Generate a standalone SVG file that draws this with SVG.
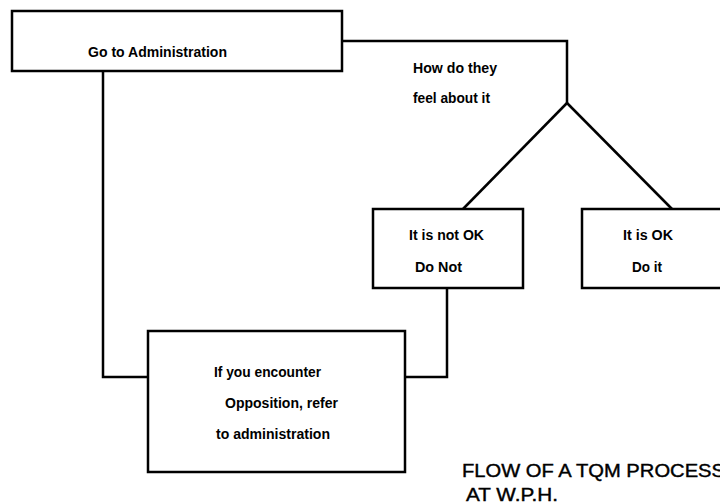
<svg xmlns="http://www.w3.org/2000/svg" width="720" height="504" viewBox="0 0 720 504">
<style>
.box{fill:#fff;stroke:#000;stroke-width:2.5}
.ln{fill:none;stroke:#000;stroke-width:2.5;stroke-linejoin:miter}
.t{font-family:"Liberation Sans",Arial,sans-serif;font-weight:bold;font-size:14px;fill:#000}
.title{font-family:"Liberation Sans",Arial,sans-serif;font-size:18px;fill:#000;stroke:#000;stroke-width:0.4}
</style>
<rect width="720" height="504" fill="#fff"/>
<g id="connectors">
<polyline class="ln" points="342,41 567,41 567,103"/>
<polyline class="ln" points="567,103 463,209"/>
<polyline class="ln" points="567,103 672,209"/>
<polyline class="ln" points="447,288 447,377 405,377"/>
<polyline class="ln" points="103,71 103,377 148,377"/>
</g>
<g id="go-admin">
<rect class="box" x="12" y="11" width="330" height="60"/>
<text class="t" x="88" y="57" textLength="139" lengthAdjust="spacingAndGlyphs">Go to Administration</text>
</g>
<g id="feel">
<text class="t" x="413" y="73" textLength="84" lengthAdjust="spacingAndGlyphs">How do they</text>
<text class="t" x="413" y="103" textLength="77" lengthAdjust="spacingAndGlyphs">feel about it</text>
</g>
<g id="not-ok">
<rect class="box" x="373" y="209" width="150" height="79"/>
<text class="t" x="409" y="240" textLength="75" lengthAdjust="spacingAndGlyphs">It is not OK</text>
<text class="t" x="415" y="272" textLength="47" lengthAdjust="spacingAndGlyphs">Do Not</text>
</g>
<g id="ok">
<rect class="box" x="582" y="209" width="150" height="79"/>
<text class="t" x="623" y="240" textLength="50" lengthAdjust="spacingAndGlyphs">It is OK</text>
<text class="t" x="632" y="272" textLength="30" lengthAdjust="spacingAndGlyphs">Do it</text>
</g>
<g id="opposition">
<rect class="box" x="148" y="331" width="257" height="141"/>
<text class="t" x="214" y="377" textLength="107" lengthAdjust="spacingAndGlyphs">If you encounter</text>
<text class="t" x="225" y="408" textLength="113" lengthAdjust="spacingAndGlyphs">Opposition, refer</text>
<text class="t" x="216" y="439" textLength="114" lengthAdjust="spacingAndGlyphs">to administration</text>
</g>
<g id="title">
<text class="title" x="462" y="477" textLength="263" lengthAdjust="spacingAndGlyphs">FLOW OF A TQM PROCESS</text>
<text class="title" x="466" y="501" textLength="92" lengthAdjust="spacingAndGlyphs">AT W.P.H.</text>
</g>
</svg>
